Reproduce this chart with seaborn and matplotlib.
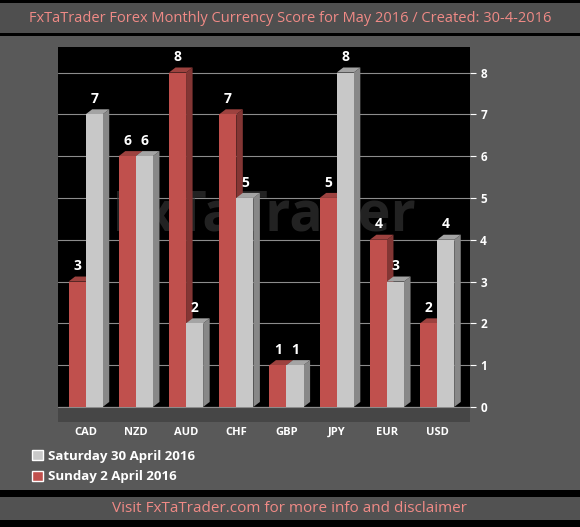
import pandas as pd
import seaborn as sns
import matplotlib.pyplot as plt
from matplotlib.patches import Polygon, Rectangle
import matplotlib.colors as mcolors

# scores
currencies = ['CAD', 'NZD', 'AUD', 'CHF', 'GBP', 'JPY', 'EUR', 'USD']
score_apr02 = [3, 6, 8, 7, 1, 5, 4, 2]   # Sunday 2 April 2016 (red)
score_apr30 = [7, 6, 2, 5, 1, 8, 3, 4]   # Saturday 30 April 2016 (gray)
series_names = ['Sunday 2 April 2016', 'Saturday 30 April 2016']
y_ticks = [0, 1, 2, 3, 4, 5, 6, 7, 8]

df = pd.DataFrame({
    'Currency': currencies * 2,
    'Series': [series_names[0]] * len(currencies) + [series_names[1]] * len(currencies),
    'Score': score_apr02 + score_apr30,
})

sns.set_style('dark')
plt.rcParams['font.family'] = ['Open Sans', 'DejaVu Sans']

fig = plt.figure(figsize=(5.8, 5.27), dpi=100)
fig.patch.set_facecolor('#595959')

# title band, footer band and black frame lines
W, H = 580, 527
def band(y0, y1, color):
    fig.patches.append(Rectangle((0, 1 - y1 / H), 1, (y1 - y0) / H, transform=fig.transFigure,
                                 facecolor=color, edgecolor='none', zorder=0))
band(0, 3, 'black')
band(3, 33, '#4f4f4f')
band(33, 36, 'black')
band(490, 497, 'black')
band(497, 520, '#525252')
band(520, 527, 'black')

fig.text(0.5, 1 - 18 / H, 'FxTaTrader Forex Monthly Currency Score for May 2016 / Created: 30-4-2016',
         ha='center', va='center', color='#f08a86', fontsize=10.5)
fig.text(0.5, 1 - 509 / H, 'Visit FxTaTrader.com for more info and disclaimer',
         ha='center', va='center', color='#f08a86', fontsize=11)

ax = fig.add_axes([0.10, 0.20, 0.71, 0.71])
ax.set_facecolor('black')
sns.barplot(data=df, x='Currency', y='Score', hue='Series', hue_order=series_names,
            palette=['#c0504d', '#c8c8c8'], width=0.68, saturation=1, ax=ax,
            legend=False, zorder=3, edgecolor='none')

# fake depth: side and top faces for each bar
dx, dy = 0.13, 0.12
for bar in ax.patches[:]:
    x0 = bar.get_x()
    x1 = x0 + bar.get_width()
    h = bar.get_height()
    rgb = mcolors.to_rgb(bar.get_facecolor())
    side = tuple(c * 0.68 for c in rgb)
    top = tuple(c * 0.82 for c in rgb)
    ax.add_patch(Polygon([(x1, 0), (x1 + dx, dy), (x1 + dx, h + dy), (x1, h)],
                         facecolor=side, edgecolor='none', zorder=2.5))
    ax.add_patch(Polygon([(x0, h), (x0 + dx, h + dy), (x1 + dx, h + dy), (x1, h)],
                         facecolor=top, edgecolor='none', zorder=2.5))
    ax.text((x0 + x1) / 2, h + dy + 0.08, f'{h:g}', ha='center', va='bottom',
            color='white', fontsize=10, fontweight='bold', zorder=4)

# faint watermark behind the bars
ax.text(0.5, 0.55, 'FxTaTrader', transform=ax.transAxes, ha='center', va='center',
        fontsize=40, fontweight='bold', color='#3a3a3a', alpha=0.6, zorder=1)

# floor below the bars
ax.axhspan(-0.35, 0, color='#464646', zorder=0.5)

ax.set_ylim(-0.35, 8.6)
ax.set_xlim(-0.55, 7.65)
ax.set_yticks(y_ticks)
ax.yaxis.tick_right()
ax.grid(axis='y', color='#8c8c8c', lw=0.8, zorder=0)
ax.grid(axis='x', visible=False)
ax.tick_params(axis='y', colors='white', labelsize=8.5, length=4, right=True, width=0.8)
ax.tick_params(axis='x', colors='white', labelsize=8, length=0, pad=4)
for lab in ax.get_xticklabels() + ax.get_yticklabels():
    lab.set_fontweight('bold')
ax.set_xlabel('')
ax.set_ylabel('')
for s in ax.spines.values():
    s.set_visible(False)

# legend in the lower left, gray series first
handles = [Rectangle((0, 0), 1, 1, facecolor='#c8c8c8'), Rectangle((0, 0), 1, 1, facecolor='#c0504d')]
fig.legend(handles, [series_names[1], series_names[0]], loc='upper left',
           bbox_to_anchor=(0.035, 1 - 438 / H), frameon=False, labelcolor='white',
           prop={'weight': 'bold', 'size': 9.5}, handlelength=0.8, handleheight=0.8,
           handletextpad=0.4, labelspacing=0.55)

fig.savefig('out.png', dpi=100, facecolor=fig.get_facecolor())
